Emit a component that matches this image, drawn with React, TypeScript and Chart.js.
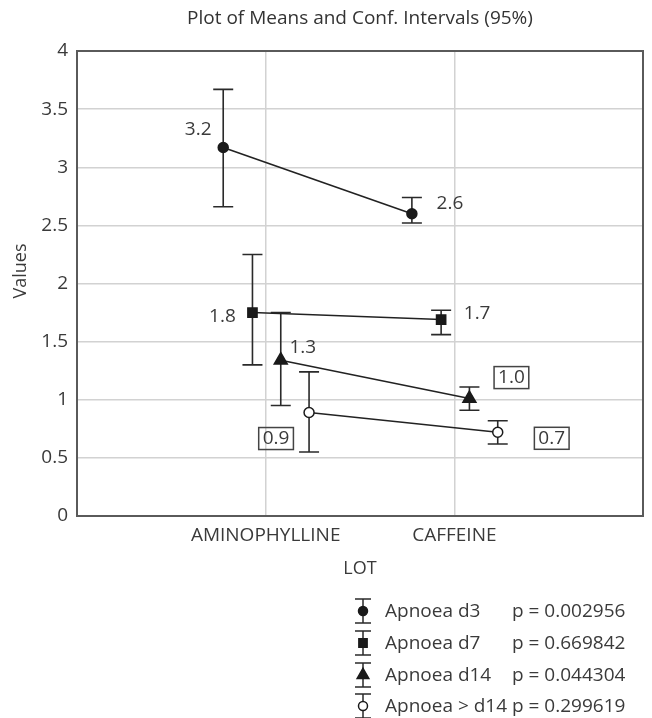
import React, { useEffect, useRef } from 'react';
import { Chart, registerables } from 'chart.js';

Chart.register(...registerables);

// ---------- data ----------
const categories = ['AMINOPHYLLINE', 'CAFFEINE'];
const seriesNames = ['Apnoea d3', 'Apnoea d7', 'Apnoea d14', 'Apnoea > d14'];
const pValues = ['p = 0.002956', 'p = 0.669842', 'p = 0.044304', 'p = 0.299619'];

const d3Means = [3.17, 2.6];
const d3Lower = [2.66, 2.52];
const d3Upper = [3.67, 2.74];
const d3Labels = ['3.2', '2.6'];

const d7Means = [1.75, 1.69];
const d7Lower = [1.3, 1.56];
const d7Upper = [2.25, 1.77];
const d7Labels = ['1.8', '1.7'];

const d14Means = [1.34, 1.01];
const d14Lower = [0.95, 0.91];
const d14Upper = [1.75, 1.11];
const d14Labels = ['1.3', '1.0'];

const gtd14Means = [0.89, 0.72];
const gtd14Lower = [0.55, 0.62];
const gtd14Upper = [1.24, 0.82];
const gtd14Labels = ['0.9', '0.7'];

const yTicks = [0, 0.5, 1, 1.5, 2, 2.5, 3, 3.5, 4];

const titleText = 'Plot of Means and Conf. Intervals (95%)';
const xTitle = 'LOT';
const yTitle = 'Values';

// ---------- styles ----------
const FONT = '"Open Sans", "DejaVu Sans", sans-serif';
const TEXT = '#3a3a3a';
const dodge = [-0.225, -0.07, 0.08, 0.23];
const markerStyles = [
  { pointStyle: 'circle', radius: 5, fill: '#1a1a1a' },
  { pointStyle: 'rect', radius: 6.5, fill: '#1a1a1a' },
  { pointStyle: 'triangle', radius: 7.5, fill: '#1a1a1a' },
  { pointStyle: 'circle', radius: 5, fill: '#ffffff' },
];
// label offsets (px) from point centre, and whether boxed
const labelOffsets = [
  [[-25, -18], [38, -10]],
  [[-30, 4], [36, -6]],
  [[22, -13], [42, -21]],
  [[-33, 26], [54, 6]],
];
const labelBoxed = [
  [false, false],
  [false, false],
  [false, true],
  [true, true],
];

const means = [d3Means, d7Means, d14Means, gtd14Means];
const lowers = [d3Lower, d7Lower, d14Lower, gtd14Lower];
const uppers = [d3Upper, d7Upper, d14Upper, gtd14Upper];
const labels = [d3Labels, d7Labels, d14Labels, gtd14Labels];

const AREA = { left: 77, right: 646, top: 51, bottom: 516 };

const drawErrorBar = (ctx: CanvasRenderingContext2D, x: number, y1: number, y2: number, cap: number) => {
  ctx.beginPath();
  ctx.moveTo(x, y1);
  ctx.lineTo(x, y2);
  ctx.moveTo(x - cap / 2, y1);
  ctx.lineTo(x + cap / 2, y1);
  ctx.moveTo(x - cap / 2, y2);
  ctx.lineTo(x + cap / 2, y2);
  ctx.stroke();
};

const drawMarker = (ctx: CanvasRenderingContext2D, style: string, r: number, x: number, y: number) => {
  ctx.beginPath();
  if (style === 'circle') {
    ctx.arc(x, y, r, 0, Math.PI * 2);
  } else if (style === 'rect') {
    const s = r * Math.SQRT1_2;
    ctx.rect(x - s, y - s, 2 * s, 2 * s);
  } else {
    ctx.moveTo(x, y - r);
    ctx.lineTo(x + r * 0.866, y + r * 0.5);
    ctx.lineTo(x - r * 0.866, y + r * 0.5);
    ctx.closePath();
  }
  ctx.fill();
  ctx.stroke();
};

const errorBarPlugin = {
  id: 'errorBars',
  beforeDatasetsDraw(chart: any) {
    const { ctx, scales } = chart;
    ctx.save();
    ctx.strokeStyle = '#2a2a2a';
    ctx.lineWidth = 1.6;
    means.forEach((m, s) => {
      m.forEach((_, i) => {
        const x = scales.x.getPixelForValue(i + 1 + dodge[s]);
        drawErrorBar(ctx, x, scales.y.getPixelForValue(uppers[s][i]), scales.y.getPixelForValue(lowers[s][i]), 20);
      });
    });
    ctx.restore();
  },
};

const textPlugin = {
  id: 'texts',
  afterDraw(chart: any) {
    const { ctx, scales, chartArea } = chart;
    ctx.save();
    // frame
    ctx.strokeStyle = '#5a5a5a';
    ctx.lineWidth = 2;
    ctx.strokeRect(chartArea.left, chartArea.top, chartArea.right - chartArea.left, chartArea.bottom - chartArea.top);

    // title
    ctx.fillStyle = '#333';
    ctx.textAlign = 'center';
    ctx.textBaseline = 'middle';
    ctx.font = `19px ${FONT}`;
    ctx.fillText(titleText, (chartArea.left + chartArea.right) / 2, 19);

    // axis titles
    ctx.font = `18px ${FONT}`;
    ctx.fillStyle = TEXT;
    ctx.fillText(xTitle, (chartArea.left + chartArea.right) / 2, 569);
    ctx.save();
    ctx.translate(21, 271);
    ctx.rotate(-Math.PI / 2);
    ctx.fillText(yTitle, 0, 0);
    ctx.restore();

    // data labels
    ctx.font = `19px ${FONT}`;
    ctx.fillStyle = TEXT;
    ctx.strokeStyle = '#444';
    ctx.lineWidth = 1.5;
    means.forEach((m, s) => {
      m.forEach((v, i) => {
        const px = scales.x.getPixelForValue(i + 1 + dodge[s]);
        const py = scales.y.getPixelForValue(v);
        const lx = px + labelOffsets[s][i][0];
        const ly = py + labelOffsets[s][i][1];
        ctx.fillText(labels[s][i], lx, ly);
        if (labelBoxed[s][i]) {
          const w = ctx.measureText(labels[s][i]).width + 8;
          ctx.strokeRect(lx - w / 2, ly - 11, w, 22);
        }
      });
    });

    // legend
    const rows = [611, 643, 675, 706];
    const symX = 363;
    ctx.textAlign = 'left';
    ctx.font = `19px ${FONT}`;
    seriesNames.forEach((name, s) => {
      const y = rows[s];
      ctx.strokeStyle = '#2a2a2a';
      ctx.lineWidth = 1.5;
      drawErrorBar(ctx, symX, y - 12, y + 12, 16);
      const ms = markerStyles[s];
      ctx.fillStyle = ms.fill;
      ctx.strokeStyle = '#1a1a1a';
      ctx.lineWidth = 1.5;
      drawMarker(ctx, ms.pointStyle, ms.radius * 0.9, symX, y);
      ctx.fillStyle = TEXT;
      ctx.fillText(name, 385, y + 1);
      ctx.fillText(pValues[s], 512, y + 1);
    });
    ctx.restore();
  },
};

export default function App() {
  const ref = useRef<HTMLCanvasElement>(null);
  useEffect(() => {
    document.body.style.margin = '0';
    const canvas = ref.current!;
    const datasets = means.map((m, s) => ({
      label: seriesNames[s],
      data: m.map((v, i) => ({ x: i + 1 + dodge[s], y: v })),
      showLine: true,
      borderColor: '#222',
      borderWidth: 1.6,
      pointStyle: markerStyles[s].pointStyle,
      pointRadius: markerStyles[s].radius,
      pointBackgroundColor: markerStyles[s].fill,
      pointBorderColor: '#1a1a1a',
      pointBorderWidth: 1.5,
    }));
    const chart = new Chart(canvas, {
      type: 'scatter',
      data: { datasets },
      options: {
        animation: false,
        responsive: false,
        devicePixelRatio: 1,
        layout: { padding: { left: 0, right: 652 - AREA.right, top: AREA.top, bottom: 718 - AREA.bottom - 40 } },
        plugins: { legend: { display: false }, tooltip: { enabled: false }, title: { display: false } },
        scales: {
          x: {
            type: 'linear',
            min: 0,
            max: 3,
            afterFit: (s: any) => { s.height = 40; },
            afterBuildTicks: (s: any) => { s.ticks = categories.map((_, i) => ({ value: i + 1 })); },
            ticks: {
              autoSkip: false,
              maxRotation: 0,
              padding: 8,
              color: TEXT,
              font: { family: FONT, size: 19 },
              callback: (v: any) => categories[Math.round(v) - 1] ?? '',
            },
            grid: { color: '#d2d2d2', lineWidth: 1.5, drawTicks: false },
            border: { display: false },
          },
          y: {
            min: 0,
            max: 4,
            afterFit: (s: any) => { s.width = AREA.left; },
            afterBuildTicks: (s: any) => { s.ticks = yTicks.map((v) => ({ value: v })); },
            ticks: {
              padding: 9,
              color: TEXT,
              font: { family: FONT, size: 19 },
              callback: (v: any) => String(v),
            },
            grid: { color: '#d2d2d2', lineWidth: 1.5, drawTicks: false },
            border: { display: false },
          },
        },
      },
      plugins: [errorBarPlugin, textPlugin],
    });
    return () => chart.destroy();
  }, []);
  return <canvas ref={ref} width={652} height={718} style={{ display: 'block', background: '#fff' }} />;
}
